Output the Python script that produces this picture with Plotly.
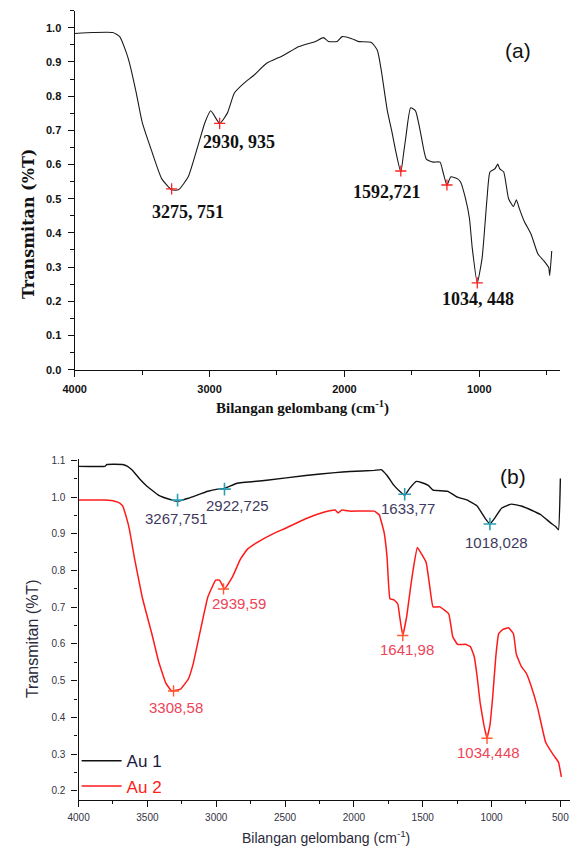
import plotly.graph_objects as go

# ---------------- data (a) ----------------
top_wn = [4000, 3862, 3717, 3666, 3615, 3593, 3543, 3499, 3426, 3354, 3281, 3230, 3158, 3085, 3034, 2991, 2925, 2867, 2816, 2744,
          2671, 2577, 2453, 2337, 2214, 2155, 2119, 2054, 2017, 1945, 1901, 1800, 1756, 1727, 1683, 1647, 1618, 1582, 1560, 1545,
          1509, 1473, 1436, 1393, 1342, 1291, 1269, 1240, 1211, 1161, 1139, 1102, 1073, 1052, 1015, 979, 943, 921, 885, 863,
          848, 819, 783, 747, 725, 703, 667, 616, 565, 521, 485, 478, 463]
top_t = [0.983, 0.986, 0.986, 0.974, 0.925, 0.896, 0.809, 0.723, 0.636, 0.558, 0.526, 0.526, 0.564, 0.656, 0.723, 0.757, 0.720, 0.751, 0.809, 0.838,
         0.861, 0.896, 0.919, 0.945, 0.960, 0.971, 0.960, 0.960, 0.974, 0.968, 0.960, 0.957, 0.934, 0.876, 0.760, 0.694, 0.636, 0.578, 0.636, 0.679,
         0.766, 0.757, 0.694, 0.616, 0.607, 0.607, 0.578, 0.540, 0.564, 0.558, 0.549, 0.500, 0.442, 0.355, 0.254, 0.327, 0.500, 0.578, 0.587, 0.601,
         0.587, 0.578, 0.500, 0.477, 0.497, 0.471, 0.434, 0.396, 0.338, 0.318, 0.298, 0.275, 0.347]
top_peak_wn = [3281, 2925, 1582, 1240, 1015]
top_peak_t = [0.529, 0.720, 0.581, 0.540, 0.254]
top_labels = ["3275, 751", "2930, 935", "1592,721", "1034, 448"]

# ---------------- data (b) ----------------
au1_wn = [4000, 3808, 3794, 3680, 3644, 3609, 3559, 3509, 3417, 3346, 3281, 3203, 3061, 2990, 2940, 2848, 2634, 2350, 2136, 2029,
          1852, 1802, 1759, 1709, 1667, 1631, 1595, 1546, 1510, 1460, 1425, 1318, 1247, 1176, 1105, 1048, 1012, 977, 927, 856,
          784, 713, 642, 571, 535, 514, 500]
au1_t = [1.084, 1.084, 1.089, 1.089, 1.084, 1.073, 1.051, 1.032, 1.005, 0.995, 0.989, 0.997, 1.016, 1.022, 1.024, 1.038, 1.046, 1.059, 1.067, 1.070,
         1.073, 1.075, 1.059, 1.032, 1.016, 1.005, 1.024, 1.043, 1.040, 1.032, 1.019, 1.016, 1.000, 0.992, 0.976, 0.943, 0.927, 0.943, 0.970, 0.981,
         0.976, 0.965, 0.952, 0.930, 0.920, 0.911, 1.051]
au2_wn = [4000, 3808, 3737, 3701, 3680, 3651, 3630, 3595, 3538, 3466, 3417, 3367, 3324, 3260, 3203, 3168, 3132, 3061, 3004, 2976,
          2940, 2883, 2826, 2776, 2705, 2599, 2492, 2350, 2207, 2136, 2115, 2086, 2029, 1852, 1816, 1780, 1759, 1738, 1709, 1681,
          1667, 1645, 1617, 1588, 1567, 1539, 1510, 1475, 1453, 1425, 1375, 1311, 1282, 1247, 1190, 1154, 1126, 1105, 1083, 1055,
          1033, 1012, 991, 969, 948, 920, 877, 841, 820, 784, 749, 713, 664, 607, 550, 514, 493]
au2_t = [0.992, 0.992, 0.989, 0.984, 0.976, 0.943, 0.911, 0.836, 0.728, 0.625, 0.550, 0.494, 0.472, 0.477, 0.504, 0.545, 0.607, 0.728, 0.774, 0.774,
         0.750, 0.782, 0.830, 0.857, 0.876, 0.898, 0.916, 0.941, 0.960, 0.965, 0.957, 0.965, 0.962, 0.962, 0.952, 0.903, 0.836, 0.723, 0.720, 0.709,
         0.674, 0.623, 0.674, 0.755, 0.809, 0.863, 0.846, 0.822, 0.768, 0.701, 0.701, 0.682, 0.620, 0.599, 0.599, 0.593, 0.566, 0.512, 0.440, 0.378,
         0.343, 0.378, 0.459, 0.566, 0.628, 0.639, 0.644, 0.628, 0.572, 0.539, 0.521, 0.486, 0.424, 0.332, 0.297, 0.278, 0.238]
au1_peak_wn = [3281, 2940, 1631, 1012]
au1_peak_t = [0.992, 1.022, 1.008, 0.927]
au1_labels = ["3267,751", "2922,725", "1633,77", "1018,028"]
au2_peak_wn = [3310, 2947, 1645, 1033]
au2_peak_t = [0.472, 0.750, 0.623, 0.343]
au2_labels = ["3308,58", "2939,59", "1641,98", "1034,448"]

# label placement (data coords) for peak annotations
top_label_pos = [(3158, 0.462), (2780, 0.665), (1683, 0.520), (1008, 0.208)]
au1_label_pos = [(3289, 0.943), (2848, 0.976), (1610, 0.970), (962, 0.876)]
au2_label_pos = [(3289, 0.426), (2833, 0.709), (1617, 0.585), (1019, 0.305)]

fig = go.Figure()

fig.add_trace(go.Scatter(x=top_wn, y=top_t, mode="lines", line=dict(color="#1a1a1a", width=1.1, shape="spline", smoothing=0.5),
                         xaxis="x", yaxis="y", showlegend=False))
fig.add_trace(go.Scatter(x=top_peak_wn, y=top_peak_t, mode="markers",
                         marker=dict(symbol="cross-thin", size=8, line=dict(color="#ff2020", width=1.3)),
                         xaxis="x", yaxis="y", showlegend=False))

fig.add_trace(go.Scatter(x=au1_wn, y=au1_t, mode="lines", name="Au 1",
                         line=dict(color="#111111", width=1.4, shape="spline", smoothing=0.3),
                         xaxis="x2", yaxis="y2"))
fig.add_trace(go.Scatter(x=au2_wn, y=au2_t, mode="lines", name="<span style='color:#ff2020'>Au 2</span>",
                         line=dict(color="#ff1a1a", width=1.5, shape="spline", smoothing=0.3), xaxis="x2", yaxis="y2"))
fig.add_trace(go.Scatter(x=au1_peak_wn, y=au1_peak_t, mode="markers",
                         marker=dict(symbol="cross-thin", size=9, line=dict(color="#2a9db5", width=1.6)),
                         xaxis="x2", yaxis="y2", showlegend=False))
fig.add_trace(go.Scatter(x=au2_peak_wn, y=au2_peak_t, mode="markers",
                         marker=dict(symbol="cross-thin", size=8, line=dict(color="#ff5a30", width=1.4)),
                         xaxis="x2", yaxis="y2", showlegend=False))

annotations = []
for (x, y), t in zip(top_label_pos, top_labels):
    annotations.append(dict(x=x, y=y, xref="x", yref="y", text=t, showarrow=False,
                            font=dict(family="Liberation Serif", size=18, color="#111111", weight="bold")))
for (x, y), t in zip(au1_label_pos, au1_labels):
    annotations.append(dict(x=x, y=y, xref="x2", yref="y2", text=t, showarrow=False,
                            font=dict(family="Liberation Sans, Arial", size=15, color="#3e3a5e")))
for (x, y), t in zip(au2_label_pos, au2_labels):
    annotations.append(dict(x=x, y=y, xref="x2", yref="y2", text=t, showarrow=False,
                            font=dict(family="Liberation Sans, Arial", size=15, color="#ee4458")))

paper = dict(xref="paper", yref="paper", showarrow=False, xanchor="center", yanchor="middle")
annotations += [
    dict(paper, x=517 / 571, y=1 - 47 / 856, text="(a)",
         font=dict(family="Liberation Sans, Arial", size=21, color="#111111")),
    dict(paper, x=512 / 571, y=1 - 478 / 856, text="(b)",
         font=dict(family="Liberation Sans, Arial", size=21, color="#111111")),
    dict(paper, x=17 / 571, y=1 - 223 / 856, text="Transmitan (%T)", textangle=-90,
         font=dict(family="DejaVu Serif", size=16, color="#111111", weight="bold")),
    dict(paper, x=297 / 571, y=1 - 408 / 856, text="Bilangan gelombang (cm<sup>-1</sup>)",
         font=dict(family="Liberation Serif", size=15, color="#111111", weight="bold")),
    dict(paper, x=21 / 571, y=1 - 642 / 856, text="Transmitan (%T)", textangle=-90,
         font=dict(family="Liberation Sans, Arial", size=16, color="#2a2a3a")),
    dict(paper, x=321 / 571, y=1 - 843 / 856, text="Bilangan gelombang (cm<sup>-1</sup>)",
         font=dict(family="Liberation Sans, Arial", size=14, color="#2a2a3a")),
]

axis_common = dict(showline=True, linecolor="#111111", linewidth=1.3, showgrid=False, zeroline=False,
                   ticks="outside", tickcolor="#111111", ticklen=6, tickwidth=1.2)

fig.update_layout(
    width=571, height=856, margin=dict(l=0, r=0, t=0, b=0),
    paper_bgcolor="white", plot_bgcolor="white",
    xaxis=dict(axis_common, domain=[64 / 571, 560 / 571], range=[4000, 400], anchor="y",
               tickmode="linear", tick0=0, dtick=1000,
               minor=dict(dtick=500, tick0=0, ticks="outside", ticklen=4, tickcolor="#111111"),
               tickfont=dict(family="Liberation Sans, Arial", size=11, color="#111111", weight="bold"),
               ticklabelstandoff=3),
    yaxis=dict(axis_common, domain=[1 - 370 / 856, 1 - 6.7 / 856], range=[0, 1.05], anchor="x",
               tickmode="linear", tick0=0, dtick=0.1, tickformat=".1f",
               minor=dict(dtick=0.05, tick0=0, ticks="outside", ticklen=4, tickcolor="#111111"),
               tickfont=dict(family="Liberation Sans, Arial", size=11, color="#111111", weight="bold"),
               ticklabelstandoff=4),
    xaxis2=dict(axis_common, domain=[68 / 571, 570 / 571], range=[4000, 430], anchor="y2",
                tickmode="linear", tick0=0, dtick=500,
                minor=dict(dtick=250, tick0=0, ticks="outside", ticklen=3, tickcolor="#111111"),
                tickfont=dict(family="Liberation Sans, Arial", size=10, color="#333344"),
                ticklabelstandoff=2),
    yaxis2=dict(axis_common, domain=[1 - 805 / 856, 1 - 460 / 856], range=[0.176, 1.105], anchor="x2",
                tickmode="linear", tick0=0.2, dtick=0.1, tickformat=".1f",
                minor=dict(dtick=0.05, tick0=0.2, ticks="outside", ticklen=3, tickcolor="#111111"),
                tickfont=dict(family="Liberation Sans, Arial", size=10, color="#333344"),
                ticklabelstandoff=4),
    legend=dict(x=66 / 571, y=1 - 748 / 856, xanchor="left", yanchor="top", bgcolor="rgba(0,0,0,0)",
                font=dict(family="Liberation Sans, Arial", size=17, color="#1a1a40"),
                tracegroupgap=0, itemwidth=40),
    annotations=annotations,
)

fig.write_html("out.html")
